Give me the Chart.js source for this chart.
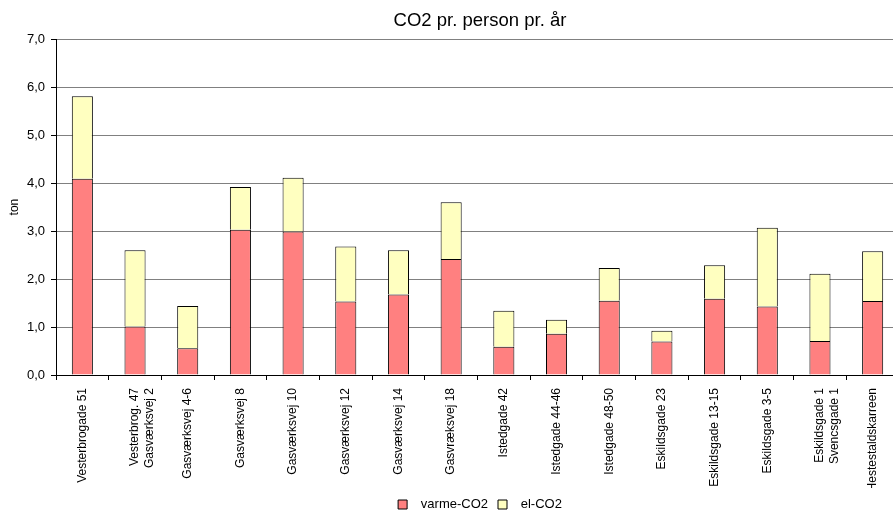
<!DOCTYPE html>
<html>
<head>
<meta charset="utf-8">
<script src="https://cdn.jsdelivr.net/npm/chart.js@4/dist/chart.umd.min.js"></script>
<style>
  html, body { margin: 0; padding: 0; background: #fff; overflow: hidden; }
  #wrap { width: 960px; height: 513px; }
</style>
</head>
<body>
<div id="wrap"><canvas id="c" width="960" height="513"></canvas></div>
<script>
// Addresses along the street survey
const categories = [
  'Vesterbrogade 51',
  ['Vesterbrog. 47', 'Gasværksvej 2'],
  'Gasværksvej 4-6',
  'Gasværksvej 8',
  'Gasværksvej 10',
  'Gasværksvej 12',
  'Gasværksvej 14',
  'Gasvræksvej 18',
  'Istedgade 42',
  'Istedgade 44-46',
  'Istedgade 48-50',
  'Eskildsgade 23',
  'Eskildsgade 13-15',
  'Eskildsgade 3-5',
  ['Eskildsgade 1', 'Svencsgade 1'],
  'Hestestaldskarreen'
];

// CO2 per person per year, tonnes
const varmeCO2 = [4.09, 1.01, 0.56, 3.03, 2.99, 1.53, 1.68, 2.42, 0.59, 0.86, 1.55, 0.70, 1.59, 1.43, 0.71, 1.54];
const elCO2    = [1.72, 1.59, 0.88, 0.89, 1.12, 1.15, 0.92, 1.18, 0.75, 0.29, 0.68, 0.22, 0.70, 1.64, 1.40, 1.04];

const seriesNames = ['varme-CO2', 'el-CO2'];
const chartTitle = 'CO2 pr. person pr. år';
const yAxisTitle = 'ton';

const FONT = "'Liberation Sans', Arial, sans-serif";
Chart.defaults.color = '#000';
Chart.defaults.font.family = FONT;

new Chart(document.getElementById('c'), {
  type: 'bar',
  data: {
    labels: categories,
    datasets: [
      {
        label: seriesNames[0],
        data: varmeCO2,
        backgroundColor: '#FF8080',
        borderColor: '#000',
        borderWidth: 1,
        barPercentage: 0.4,
        categoryPercentage: 1
      },
      {
        label: seriesNames[1],
        data: elCO2,
        backgroundColor: '#FFFFC0',
        borderColor: '#000',
        borderWidth: 1,
        barPercentage: 0.4,
        categoryPercentage: 1
      }
    ]
  },
  options: {
    responsive: false,
    animation: false,
    layout: { padding: 0 },
    plugins: {
      tooltip: { enabled: false },
      title: {
        display: true,
        text: chartTitle,
        color: '#000',
        font: { family: FONT, size: 18.5, weight: 'normal' },
        padding: { top: 10, bottom: 7 }
      },
      legend: {
        position: 'bottom',
        maxHeight: 25,
        labels: {
          boxWidth: 9,
          boxHeight: 9,
          padding: 10,
          color: '#000',
          font: { family: FONT, size: 13 },
          generateLabels(chart) {
            const items = Chart.defaults.plugins.legend.labels.generateLabels(chart);
            items.forEach(it => { it.text = '  ' + it.text; });
            return items;
          }
        }
      }
    },
    scales: {
      x: {
        stacked: true,
        grid: { offset: true, drawOnChartArea: false, color: '#000', tickLength: 5 },
        border: { color: '#000', width: 1 },
        ticks: {
          autoSkip: false,
          minRotation: 90,
          maxRotation: 90,
          padding: 8,
          color: '#000',
          font: { family: FONT, size: 12 }
        },
        afterFit(s) { s.height = 113; }
      },
      y: {
        stacked: true,
        min: 0,
        max: 7,
        grid: { color: '#808080', tickColor: '#000', tickLength: 5, lineWidth: 1 },
        border: { color: '#000', width: 1 },
        ticks: {
          stepSize: 1,
          padding: 6,
          color: '#000',
          font: { family: FONT, size: 13 },
          callback: v => v.toFixed(1).replace('.', ',')
        },
        title: {
          display: true,
          text: yAxisTitle,
          color: '#000',
          font: { family: FONT, size: 12 },
          padding: { top: 7, bottom: 0 }
        },
        afterFit(s) { s.width = 56; }
      },
      yRight: {
        position: 'right',
        display: true,
        grid: { display: false, drawTicks: false },
        border: { display: false },
        ticks: { display: false },
        afterFit(s) { s.width = 61; }
      }
    }
  }
});
</script>
</body>
</html>
